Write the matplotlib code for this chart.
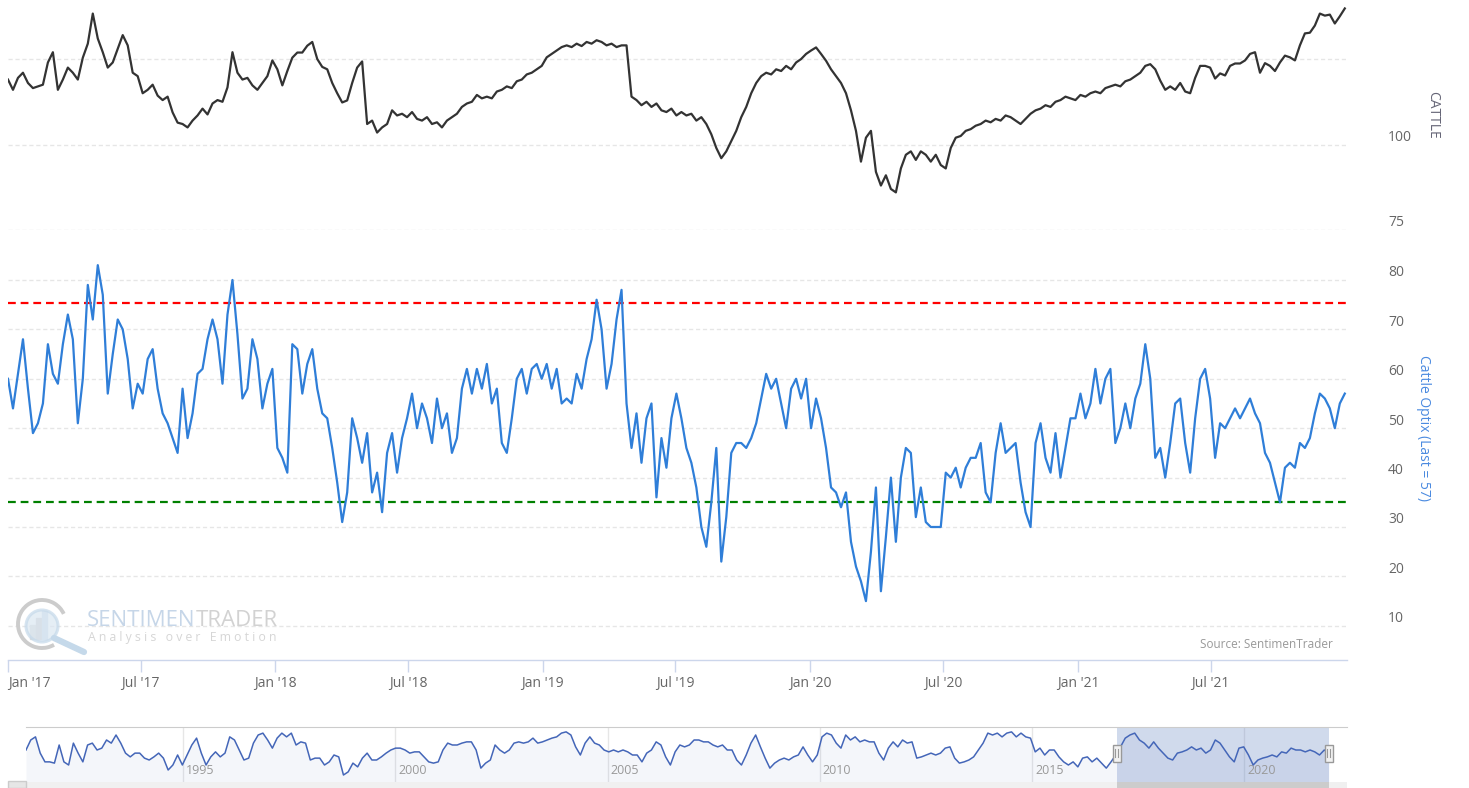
import numpy as np
import pandas as pd
import matplotlib
matplotlib.use("Agg")
import matplotlib.pyplot as plt
import matplotlib.dates as mdates
from matplotlib.patches import Rectangle, Circle, Arc
from matplotlib.lines import Line2D

plt.rcParams['font.family'] = ['Open Sans', 'DejaVu Sans']

# weekly-ish readings, Jan 2017 .. Dec 2021
optix = [
    60, 54, 61, 68, 58, 49, 51, 55, 67, 61,
    59, 67, 73, 68, 51, 60, 79, 72, 83, 77,
    57, 65, 72, 70, 64, 54, 59, 57, 64, 66,
    58, 53, 51, 48, 45, 58, 48, 53, 61, 62,
    68, 72, 68, 59, 73, 80, 69, 56, 58, 68,
    64, 54, 59, 62, 46, 44, 41, 67, 66, 57,
    63, 66, 58, 53, 52, 46, 39, 31, 37, 52,
    48, 43, 49, 37, 41, 33, 45, 49, 41, 48,
    52, 57, 50, 55, 52, 47, 56, 50, 53, 45,
    48, 58, 62, 57, 62, 58, 63, 55, 58, 47,
    45, 52, 60, 62, 57, 62, 63, 60, 63, 58,
    62, 55, 56, 55, 61, 58, 64, 68, 76, 70,
    58, 63, 72, 78, 55, 46, 53, 43, 52, 55,
    36, 48, 42, 52, 57, 52, 46, 43, 38, 30,
    26, 35, 46, 23, 32, 45, 47, 47, 46, 48,
    51, 56, 61, 58, 60, 55, 50, 58, 60, 56,
    60, 50, 56, 52, 46, 38, 37, 34, 37, 27,
    22, 19, 15, 25, 38, 17, 28, 40, 27, 40,
    46, 45, 32, 38, 31, 30, 30, 30, 41, 40,
    42, 38, 42, 44, 44, 47, 37, 35, 45, 51,
    45, 46, 47, 39, 33, 30, 47, 51, 44, 41,
    49, 40, 46, 52, 52, 57, 52, 55, 62, 55,
    60, 62, 47, 50, 55, 50, 56, 59, 67, 60,
    44, 46, 40, 47, 55, 56, 47, 41, 52, 60,
    62, 56, 44, 51, 50, 52, 54, 52, 54, 56,
    53, 51, 45, 43, 39, 35, 42, 43, 42, 47,
    46, 48, 53, 57, 56, 54, 50, 55, 57,
]

cattle = [
    119, 116, 119.5, 121, 118, 116.5, 117, 117.5, 124, 127,
    116, 119, 122.5, 121, 119, 125.4, 129.5, 138.3, 131, 127,
    122.5, 124, 128, 132, 129, 121, 120, 115, 116, 117.5,
    114.3, 113, 114, 109.4, 106.4, 106, 105, 107, 108.5, 110.5,
    108.8, 112, 113, 112.5, 116.7, 127, 121, 119, 119.5, 117.3,
    116, 118, 120, 124.6, 122, 117.3, 121.5, 125.4, 126.9, 126.9,
    128.9, 130, 125, 122.7, 122, 118, 115, 112.3, 112.9, 118,
    122.5, 124.3, 106, 107, 103.5, 105, 106, 110, 108.5, 109,
    108, 109.5, 107.5, 107, 108, 106, 106.5, 105, 107, 108,
    109, 111, 112, 112.5, 114.5, 113.5, 114, 113.5, 115.5, 116,
    117, 116.5, 118.5, 119, 120.5, 121, 122, 123, 125.5, 126.5,
    127.5, 128.5, 129, 128.5, 129.5, 128.8, 130, 129.5, 130.5, 130,
    129, 129.5, 128.5, 129, 129, 114, 113, 111.5, 112.5, 111,
    112, 110, 109.5, 110.5, 108.5, 109.5, 108.5, 109, 107, 108,
    106, 103, 99, 96, 98, 101, 104, 108, 111, 115,
    118, 120, 121, 120.5, 122, 121.5, 123, 122, 124, 125,
    126.5, 127.5, 128.4, 126.5, 124.5, 122, 120, 118, 115, 110,
    104, 95, 102, 104, 92, 88, 91, 87, 86, 93,
    97, 98, 95.5, 98, 97, 95, 97, 94, 93, 99,
    102, 102.5, 104, 104.5, 105.5, 106, 107, 106.5, 107.5, 107,
    108.5, 108, 107, 106, 107.5, 109, 110, 110.5, 111.5, 111,
    112.5, 113, 114, 113.5, 113, 114.5, 114, 115, 115.5, 115,
    116.5, 117, 117.5, 117, 118.5, 119, 120, 121, 123, 123.5,
    122, 118.7, 116, 117, 116, 118, 115.5, 115, 119.5, 123,
    123, 122.5, 119.3, 120.8, 120.2, 123, 123.7, 123.7, 124.6, 126.5,
    127, 121, 123.8, 123, 121.5, 124, 126, 125.5, 124.6, 129,
    132.5, 132.7, 134.8, 138.3, 137.7, 138, 135.4, 137.5, 139.8,
]

# long history for the navigator strip, 1991 .. 2021
nav_optix = [
    53, 69, 74, 48, 34, 34, 32, 61, 34, 29,
    64, 48, 34, 61, 64, 53, 56, 69, 64, 77,
    64, 48, 42, 48, 48, 40, 37, 42, 48, 40,
    21, 29, 45, 29, 45, 61, 72, 48, 29, 42,
    50, 42, 48, 74, 69, 53, 37, 40, 64, 77,
    80, 69, 56, 72, 80, 74, 80, 61, 66, 64,
    37, 40, 40, 29, 34, 45, 42, 13, 18, 32,
    26, 40, 48, 37, 37, 42, 48, 53, 56, 56,
    53, 48, 50, 50, 42, 34, 32, 34, 53, 64,
    61, 61, 64, 66, 66, 53, 24, 32, 37, 61,
    53, 48, 53, 64, 66, 64, 66, 72, 64, 66,
    69, 72, 74, 80, 82, 77, 58, 45, 64, 74,
    64, 61, 53, 50, 53, 50, 53, 50, 45, 45,
    34, 48, 53, 66, 61, 42, 29, 50, 61, 58,
    61, 69, 69, 66, 66, 61, 58, 61, 53, 53,
    37, 29, 45, 64, 77, 58, 40, 24, 32, 37,
    40, 37, 42, 45, 58, 45, 34, 45, 74, 80,
    77, 64, 56, 77, 69, 74, 66, 69, 66, 66,
    48, 37, 56, 66, 58, 69, 64, 66, 40, 42,
    45, 48, 45, 48, 56, 58, 40, 32, 34, 37,
    42, 53, 64, 80, 77, 80, 74, 80, 82, 74,
    80, 74, 72, 50, 56, 45, 53, 53, 42, 34,
    29, 34, 26, 40, 42, 34, 40, 32, 24, 34,
    45, 58, 72, 77, 80, 69, 64, 56, 66, 56,
    48, 40, 37, 48, 50, 53, 58, 53, 56, 48,
    53, 69, 64, 53, 42, 34, 56, 58, 45, 29,
    37, 40, 42, 45, 42, 50, 48, 56, 53, 53,
    50, 53, 50, 45, 53, 48,
]

upper_level = 75.4
lower_level = 35.0

tick_dates = ['2017-01-01', '2017-07-01', '2018-01-01', '2018-07-01', '2019-01-01',
              '2019-07-01', '2020-01-01', '2020-07-01', '2021-01-01', '2021-07-01']
tick_labels = ["Jan '17", "Jul '17", "Jan '18", "Jul '18", "Jan '19",
               "Jul '19", "Jan '20", "Jul '20", "Jan '21", "Jul '21"]
nav_years = [1995, 2000, 2005, 2010, 2015, 2020]

dates = pd.date_range('2017-01-01', '2021-12-31', periods=len(optix))
nav_dates = pd.date_range('1991-04-20', '2021-12-31', periods=len(nav_optix))

W, H = 1469, 788
fig = plt.figure(figsize=(W / 100, H / 100), dpi=100)


def box(l, t, r, b):
    return [l / W, 1 - b / H, (r - l) / W, (b - t) / H]


xlo, xhi = pd.Timestamp('2017-01-01'), pd.Timestamp('2022-01-03')
grid_kw = dict(color='#e6e6e6', lw=1, ls=(0, (3, 2)), zorder=0)
lab_x = 1.0306

# ---- top panel: cattle price
ax_top = fig.add_axes(box(8, 4, 1347, 230))
ax_top.patch.set_alpha(0)
for v in (75, 100, 125):
    ax_top.axhline(v, **grid_kw)
ax_top.plot(dates, cattle, color='#333333', lw=1.6, zorder=3)
ax_top.set_xlim(xlo, xhi)
ax_top.set_ylim(75, 141.1)
ax_top.set_xticks([])
ax_top.set_yticks([])
for s in ax_top.spines.values():
    s.set_visible(False)
for v in (100, 75):
    ax_top.annotate(str(v), xy=(lab_x, v), xycoords=('axes fraction', 'data'),
                    xytext=(0, 7), textcoords='offset pixels', ha='left', va='center',
                    fontsize=10, color='#666666', annotation_clip=False)

# ---- middle panel: optix
ax_mid = fig.add_axes(box(8, 236, 1347, 660))
ax_mid.patch.set_alpha(0)
for v in range(10, 90, 10):
    ax_mid.axhline(v, **grid_kw)
    ax_mid.annotate(str(v), xy=(lab_x, v), xycoords=('axes fraction', 'data'),
                    xytext=(0, 7), textcoords='offset pixels', ha='left', va='center',
                    fontsize=10, color='#666666', annotation_clip=False)
ax_mid.axhline(upper_level, color='#ff0000', lw=1.6, ls=(0, (3.5, 2.2)), zorder=2)
ax_mid.axhline(lower_level, color='#008000', lw=1.6, ls=(0, (3.5, 2.2)), zorder=2)
ax_mid.plot(dates, optix, color='#2f7ed8', lw=1.6, zorder=3)
ax_mid.set_xlim(xlo, xhi)
ax_mid.set_ylim(3.08, 88.9)
ax_mid.set_yticks([])
ax_mid.set_xticks(pd.to_datetime(tick_dates))
ax_mid.set_xticklabels(tick_labels)
ax_mid.get_xticklabels()[0].set_horizontalalignment('left')
ax_mid.tick_params(axis='x', direction='out', length=8.6, width=1, color='#ccd6eb',
                   pad=3, labelsize=10, labelcolor='#666666')
for name, s in ax_mid.spines.items():
    if name == 'bottom':
        s.set_color('#ccd6eb')
        s.set_linewidth(1)
    else:
        s.set_visible(False)

fig.text(1333 / W, 1 - 644 / H, 'Source: SentimenTrader', ha='right', va='center',
         fontsize=8.5, color='#999999')
fig.text(1433 / W, 1 - 115 / H, 'CATTLE', rotation=270, ha='center', va='center',
         fontsize=10, color='#666677')
fig.text(1424 / W, 1 - 428 / H, 'Cattle Optix (Last = %d)' % round(optix[-1]),
         rotation=270, ha='center', va='center', fontsize=10, color='#4a8ae0')

# ---- watermark
ax_wm = fig.add_axes(box(10, 596, 92, 656))
ax_wm.set_xlim(0, 82)
ax_wm.set_ylim(0, 60)
ax_wm.axis('off')
ax_wm.add_patch(Arc((32, 32), 48, 48, theta1=25, theta2=300, color='#cccccc', lw=2.8))
ax_wm.add_patch(Rectangle((20, 17), 5, 14, color='#dddddd'))
ax_wm.add_patch(Rectangle((26, 17), 5, 21, color='#d2d2d2'))
ax_wm.add_patch(Rectangle((32, 17), 5, 28, color='#cfe0ee'))
ax_wm.add_patch(Circle((32, 30), 16, fc='#dbe7f2', ec='#c5d9ea', lw=2.2, alpha=0.7))
ax_wm.add_line(Line2D([44, 74], [18, 4], color='#c5d9ea', lw=4.5, solid_capstyle='round'))

t1 = fig.text(87 / W, 1 - 621 / H, 'SENTIMEN', ha='left', va='center', fontsize=16,
              color='#c6d6e8')
fig.canvas.draw()
bb = t1.get_window_extent()
fig.text(bb.x1 / W, 1 - 621 / H, 'TRADER', ha='left', va='center', fontsize=16,
         color='#d2d2d2')
fig.text(88 / W, 1 - 638 / H, '   '.join(' '.join(w) for w in 'Analysis over Emotion'.split()),
         ha='left', va='center', fontsize=8.8, color='#d6d6d6')

# ---- navigator
ax_nav = fig.add_axes(box(26, 727, 1347, 782))
nxlo, nxhi = pd.Timestamp('1991-04-20'), pd.Timestamp('2022-06-04')
for y in nav_years:
    d = pd.Timestamp('%d-01-01' % y)
    ax_nav.axvline(d, color='#e6e6e6', lw=1, zorder=0)
    ax_nav.annotate(str(y), xy=(d, 0.2), xycoords=('data', 'axes fraction'),
                    xytext=(3, 0), textcoords='offset pixels', ha='left', va='center',
                    fontsize=9, color='#999999')
ax_nav.fill_between(nav_dates, nav_optix, 0, color='#335cad', alpha=0.05, lw=0)
ax_nav.plot(nav_dates, nav_optix, color='#4466b8', lw=1.1, zorder=3)
sel0, sel1 = dates[0], dates[-1]
ax_nav.axvspan(sel0, sel1, color='#6685c2', alpha=0.3, lw=0, zorder=2)
ax_nav.set_xlim(nxlo, nxhi)
ax_nav.set_ylim(1.8, 89.8)
ax_nav.set_xticks([])
ax_nav.set_yticks([])
for name, s in ax_nav.spines.items():
    if name == 'top':
        s.set_color('#cccccc')
    else:
        s.set_visible(False)

# handles on the selection edges
fig.canvas.draw()
for d in (sel0, sel1):
    X = ax_nav.transData.transform((mdates.date2num(d), 0))[0]
    fig.patches.append(Rectangle(((X - 4) / W, 1 - 762 / H), 8 / W, 17 / H,
                                 transform=fig.transFigure, fc='#f2f2f2', ec='#999999',
                                 lw=1, zorder=5))
    for dx in (-1.5, 1.5):
        fig.lines.append(Line2D([(X + dx) / W] * 2, [1 - 757 / H, 1 - 749 / H],
                                transform=fig.transFigure, color='#999999', lw=0.8,
                                zorder=6))

# scrollbar strip
ax_sb = fig.add_axes(box(26, 782, 1347, 788))
ax_sb.set_facecolor('#f0f0f0')
ax_sb.set_xlim(nxlo, nxhi)
ax_sb.axvspan(sel0, sel1, color='#cccccc', lw=0)
ax_sb.set_xticks([])
ax_sb.set_yticks([])
for s in ax_sb.spines.values():
    s.set_visible(False)
fig.patches.append(Rectangle((8 / W, 0), 18 / W, 7 / H, transform=fig.transFigure,
                             fc='#e6e6e6', ec='#cccccc', lw=1))

fig.savefig('out.png', dpi=100)
